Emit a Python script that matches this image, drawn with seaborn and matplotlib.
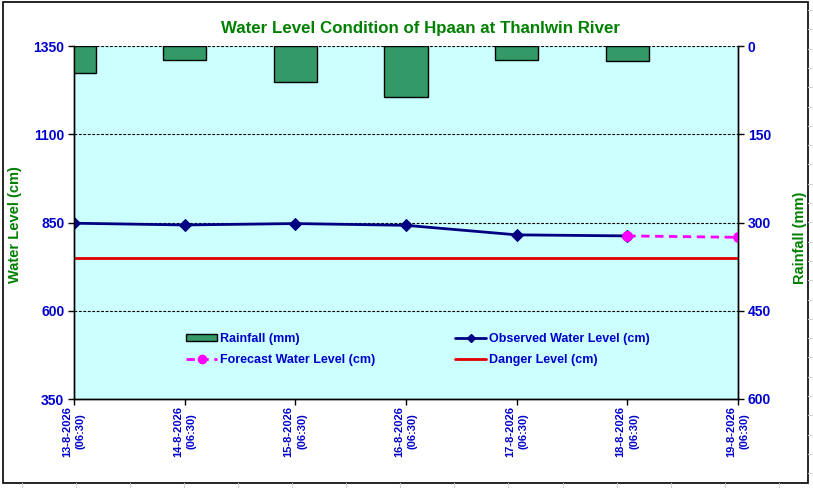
import matplotlib
matplotlib.use("Agg")
import matplotlib.pyplot as plt
from matplotlib.lines import Line2D
from matplotlib.patches import Patch, Rectangle
import seaborn as sns
import numpy as np

# ---- data ----
dates = ["13-8-2026", "14-8-2026", "15-8-2026", "16-8-2026",
         "17-8-2026", "18-8-2026", "19-8-2026"]
times = ["(06:30)"] * 7
rain_mm = [46, 23, 61, 87, 24, 26]
observed_cm = [848, 843, 847, 842, 815, 812]
forecast_cm = [812, 808]
danger_cm = 749

sns.set_style("white")
NARROW = ["Liberation Sans Narrow", "Liberation Sans", "DejaVu Sans"]
SANS = ["Liberation Sans", "DejaVu Sans"]
plt.rcParams["font.family"] = SANS

BLUE = "#0000CC"
GREEN = "#008000"

W, H = 813, 488
fig = plt.figure(figsize=(W / 100, H / 100), dpi=100)
fig.patch.set_facecolor("white")

# spreadsheet grid outside chart
for k in range(15):
    x = 22 + 54.05 * k
    fig.add_artist(Line2D([x / W, x / W], [0, 5 / H], transform=fig.transFigure,
                          color="#D4D4D4", lw=0.8))
for k in range(26):
    y = 10 + 19.3 * k
    fig.add_artist(Line2D([808 / W, 1], [1 - y / H, 1 - y / H], transform=fig.transFigure,
                          color="#D4D4D4", lw=0.8))
# chart border
fig.add_artist(Rectangle((3 / W, 1 - 483 / H), 805 / W, 481 / H, transform=fig.transFigure,
                         fill=False, edgecolor="black", lw=1.2))

left, right, top, bottom = 74, 738, 46, 399
ax = fig.add_axes([left / W, 1 - bottom / H, (right - left) / W, (bottom - top) / H])
ax.set_facecolor("#CCFFFF")
ax2 = ax.twinx()

n = len(dates)
pos_all = np.arange(n)
pos_obs = pos_all[:len(observed_cm)]
pos_fc = pos_all[len(observed_cm) - 1:len(observed_cm) - 1 + len(forecast_cm)]

# rainfall bars on inverted secondary axis
sns.barplot(x=pos_obs[:len(rain_mm)], y=rain_mm, native_scale=True, width=0.39,
            color="#339966", saturation=1, edgecolor="black", linewidth=1, ax=ax2)

# water levels
ax.plot([0, n - 1], [danger_cm, danger_cm], color="#E00000", lw=2, zorder=3)
sns.lineplot(x=pos_obs, y=observed_cm, color="#000080", lw=2, marker="D",
             markersize=6, markeredgecolor="#000080", ax=ax, zorder=4)
sns.lineplot(x=pos_fc, y=forecast_cm, color="#FF00FF", lw=2, linestyle=(0, (3, 2)),
             marker="o", markersize=7, markeredgecolor="#FF00FF", ax=ax, zorder=5)

ax.set_xlim(0, n - 1)
ax.set_ylim(350, 1350)
ax2.set_ylim(600, 0)
ax.set_yticks([350, 600, 850, 1100, 1350])
ax2.set_yticks([0, 150, 300, 450, 600])
ax.set_xticks(pos_all)
ax.set_xticklabels([f"{d}\n{t}" for d, t in zip(dates, times)], rotation=90,
                   ha="center", va="top", multialignment="center", linespacing=1.45,
                   fontsize=8, fontweight="bold", color=BLUE)
ax2.set_xlabel("")
ax2.set_ylabel("")
ax.set_xlabel("")

for lab in list(ax.get_yticklabels()) + list(ax2.get_yticklabels()):
    lab.set_family(NARROW); lab.set_fontweight("bold"); lab.set_fontsize(10); lab.set_color(BLUE)

ax.tick_params(axis="y", direction="out", length=4, width=1, color="black", pad=3, left=True)
ax2.tick_params(axis="y", direction="out", length=4, width=1, color="black", pad=3, right=True)
ax.tick_params(axis="x", direction="out", length=4, width=1, color="black", pad=1, bottom=True)

ax.yaxis.grid(True, color="black", linestyle=(0, (2.5, 1.5)), lw=0.8)
ax.xaxis.grid(False)
ax2.grid(False)
for a in (ax, ax2):
    a.spines["top"].set_visible(False)
    for s in ("left", "right", "bottom"):
        a.spines[s].set_color("black")
        a.spines[s].set_linewidth(1)

ax.set_ylabel("Water Level (cm)", color=GREEN, fontsize=10.5, fontweight="bold")
ax2.set_ylabel("Rainfall (mm)", color=GREEN, fontsize=10.5, fontweight="bold", rotation=90)
ax.yaxis.set_label_coords(-(74 - 22) / (right - left), (399 - 225) / (bottom - top))
ax2.yaxis.set_label_coords(1 + (793 - 738) / (right - left), (399 - 238) / (bottom - top))

fig.text(420 / W, 1 - 29 / H, "Water Level Condition of Hpaan at Thanlwin River",
         ha="center", va="center", color=GREEN, fontsize=12.2, fontweight="bold",
         family=NARROW)

# legends
h_rain = Patch(facecolor="#339966", edgecolor="black", lw=1, label="Rainfall (mm)")
h_fc = Line2D([], [], color="#FF00FF", lw=2, linestyle=(0, (3, 2)), marker="o",
              markersize=6, label="Forecast Water Level (cm)")
h_obs = Line2D([], [], color="#000080", lw=2, marker="D", markersize=4,
               label="Observed Water Level (cm)")
h_dan = Line2D([], [], color="#E00000", lw=2, label="Danger Level (cm)")
common = dict(frameon=False, loc="center left", borderpad=0, borderaxespad=0,
              handlelength=2.5, handletextpad=0.25, handleheight=0.45,
              labelspacing=0.75, numpoints=1,
              prop={"weight": "bold", "size": 9}, labelcolor=BLUE)
yc = 1 - 349.5 / H
leg1 = ax2.legend(handles=[h_rain, h_fc], bbox_to_anchor=(186 / W, yc),
                  bbox_transform=fig.transFigure, **common)
ax2.add_artist(leg1)
leg2 = ax2.legend(handles=[h_obs, h_dan], bbox_to_anchor=(455 / W, yc),
                  bbox_transform=fig.transFigure, **common)

fig.savefig("out.png", dpi=100, facecolor="white")
